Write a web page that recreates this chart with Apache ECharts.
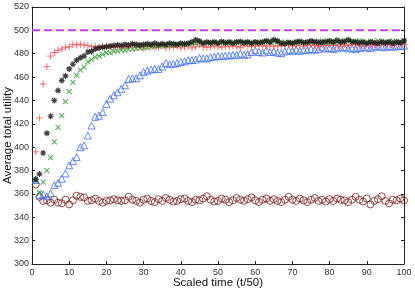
<!DOCTYPE html>
<html>
<head>
<meta charset="utf-8">
<script src="https://cdn.jsdelivr.net/npm/echarts@6/dist/echarts.min.js"></script>
<style>html,body{margin:0;padding:0;background:#fff;}#c{width:415px;height:289px;}</style>
</head>
<body>
<div id="c"></div>
<script>
// Scaled time points 1..100 (index + 1)
const xTicks = [0,10,20,30,40,50,60,70,80,90,100];
const yTicks = [300,320,340,360,380,400,420,440,460,480,500,520];
const optimum = 500;

const redPlus = [396,425,454,469,478,481,483,484,485.5,486,488,487.5,488,487.5,487,486,486.5,485.5,486,486.5,
486,485.5,486.5,486,485,486,487,485.5,486,485,486.5,486,485.5,486,487,485,486,485.5,486.5,485,
486,486.5,485,486,487.5,486,485.5,486,487,486,485.5,486.5,486,487,486,485.5,487,486.5,486,487,
486.5,487,486,487.5,486,487,486.5,487,488,486.5,487,487.5,486.5,487,488,487,486.5,487.5,487,488,
487,487.5,486.5,488,487,487.5,488,487,486.5,488,487.5,488,487,488.5,487.5,488,487,488,488.5,488];

const blackStar = [372.5,377,395,412,426.5,440,448.5,457,461,467,471,474.5,476.5,478,481.5,482,484,485,485.5,486,
486.5,487,487.5,487,488,487.5,488.5,488,487.5,488,488.5,488,489,488,488.5,488,489,488.5,488,489,
488.5,489,490,492,491,489,490,489.5,490,489,490.5,489.5,490,489,490,490.5,489.5,490,489,490,
489.5,490,491,490,492,491,489,488.5,489.5,489,490,490.5,489.5,490,491,490,489.5,490,490.5,491,
490,491.5,490,490.5,492,490.5,490,489.5,490,489,490,489.5,489,490,489.5,490,489,490,489.5,491];

const greenCross = [371,361,370,380,391,404.5,417,427,439,447.5,455.5,461.5,466,468.5,473,475,477,478,479.5,481,
481,482,482.5,483,483,484,484,484.5,485,485,485.5,486,486,486.5,487,487,487.5,487,488,488,
488,488.5,489,489,490,489,489.5,489,490,489.5,490,489,490,489.5,490,490,489.5,490,489,490,
489.5,490,490.5,490,491,490,489.5,490,490,489.5,490,490.5,490,489.5,490,490.5,491,490,489.5,490,
490.5,490,491,490.5,491,490,490.5,491,490,489.5,490.5,490,491,490.5,490,490.5,491,490,490.5,491];

const blueTriangle = [372,359,359.5,358,360.5,367.5,369.5,373,377.5,384.5,388,391.5,400,401.5,410,418.5,426,427,430,437,
441.5,444.5,447,450,453,458.5,459,459,461.5,464.5,465.5,466.5,467,467,469,472,471,471.5,472,473,
473.5,474.5,474.5,475,476.5,476,476,477,477.5,478,478,478.5,478.5,479,479,480,479,479.5,481.5,483,
481.5,481,483,481.5,482,481,480.5,482,483,482.5,483.5,482.5,483.5,483,484,483.5,484,485.5,484.5,485,
484,485,485.5,485.5,484.5,485,484,485,485.5,485.5,485,486,486.5,486,485.5,486.5,486,487,486.5,487];

const darkRedCircle = [368,357.5,354,354.5,352.5,355,352.5,352,355,351,354.5,358.5,357.5,357,354,354.5,356,354,352.5,354,
354.5,355.5,354.5,354,354.5,357.5,355,354,352.5,355,356,354,353,355.5,354,356.5,355,353.5,354,355.5,
356,354,353,355,354.5,356,358,355,353.5,354,356,355,353,354.5,356.5,355,354,355.5,357,354.5,
353,355,356,354,355.5,354,353,355,357.5,355,354,356,354.5,353,355,356.5,354,355,353.5,355.5,
354,356,355,354.5,353,355,357.5,355,353.5,356,351,354,355.5,358,354,352,355,354.5,356,354.5];

const toPairs = arr => arr.map((v, i) => [i + 1, v]);
const FONT = 'Liberation Sans';
const AX = '#222';

const plusPath = 'path://M0,5L10,5M5,0L5,10';
const crossPath = 'path://M1,1L9,9M1,9L9,1';
const starPath = 'path://M0,5L10,5M5,0L5,10M1.5,1.5L8.5,8.5M1.5,8.5L8.5,1.5';
const triPath = 'path://M5,0L10,9L0,9Z';

function strokeSym(color, w) {
  return { color: 'rgba(0,0,0,0)', borderColor: color, borderWidth: w };
}

const baseX = {
  type: 'value', min: 0, max: 100, interval: 10,
  axisLine: { show: true, onZero: false, lineStyle: { color: AX, width: 1 } },
  axisTick: { show: true, inside: true, length: 3, lineStyle: { color: AX } },
  splitLine: { show: false }
};
const baseY = {
  type: 'value', min: 300, max: 520, interval: 20,
  axisLine: { show: true, onZero: false, lineStyle: { color: AX, width: 1 } },
  axisTick: { show: true, inside: true, length: 3, lineStyle: { color: AX } },
  splitLine: { show: false }
};

const chart = echarts.init(document.getElementById('c'), null, { renderer: 'canvas' });
chart.setOption({
  animation: false,
  backgroundColor: '#fff',
  grid: { left: 32, right: 11, top: 7, bottom: 25, containLabel: false, outerBoundsMode: 'none' },
  xAxis: [
    Object.assign({}, baseX, {
      position: 'bottom',
      name: 'Scaled time (t/50)', nameLocation: 'middle', nameGap: 13, nameMoveOverlap: false,
      nameTextStyle: { fontFamily: FONT, fontSize: 11.5, color: '#111' },
      axisLabel: { fontFamily: FONT, fontSize: 9, color: '#333', margin: 4,
        formatter: v => xTicks.includes(v) ? String(v) : '' }
    }),
    Object.assign({}, baseX, { position: 'top', axisLabel: { show: false } })
  ],
  yAxis: [
    Object.assign({}, baseY, {
      position: 'left',
      name: 'Average total utility', nameLocation: 'middle', nameGap: 18, nameRotate: 90, nameMoveOverlap: false,
      nameTextStyle: { fontFamily: FONT, fontSize: 11.5, color: '#111' },
      axisLabel: { fontFamily: FONT, fontSize: 9, color: '#333', margin: 3,
        formatter: v => yTicks.includes(v) ? String(v) : '' }
    }),
    Object.assign({}, baseY, { position: 'right', axisLabel: { show: false } })
  ],
  series: [
    {
      type: 'line', data: [[0, optimum], [100, optimum]], symbol: 'none',
      lineStyle: { color: '#c43cf5', width: 2, type: [8, 4] }, z: 1
    },
    {
      type: 'scatter', data: toPairs(darkRedCircle), symbol: 'circle', symbolSize: 7,
      itemStyle: strokeSym('#7b1c1c', 1), z: 2
    },
    {
      type: 'scatter', data: toPairs(blueTriangle), symbol: triPath, symbolSize: 7,
      itemStyle: strokeSym('#3a6cff', 1), z: 3
    },
    {
      type: 'scatter', data: toPairs(redPlus), symbol: plusPath, symbolSize: 7,
      itemStyle: strokeSym('#ff4d4d', 1), z: 4
    },
    {
      type: 'scatter', data: toPairs(greenCross), symbol: crossPath, symbolSize: 5,
      itemStyle: strokeSym('#2e9a2e', 1.1), z: 5
    },
    {
      type: 'scatter', data: toPairs(blackStar), symbol: starPath, symbolSize: 6,
      itemStyle: strokeSym('#111', 1.2), z: 6
    }
  ]
});
</script>
</body>
</html>
